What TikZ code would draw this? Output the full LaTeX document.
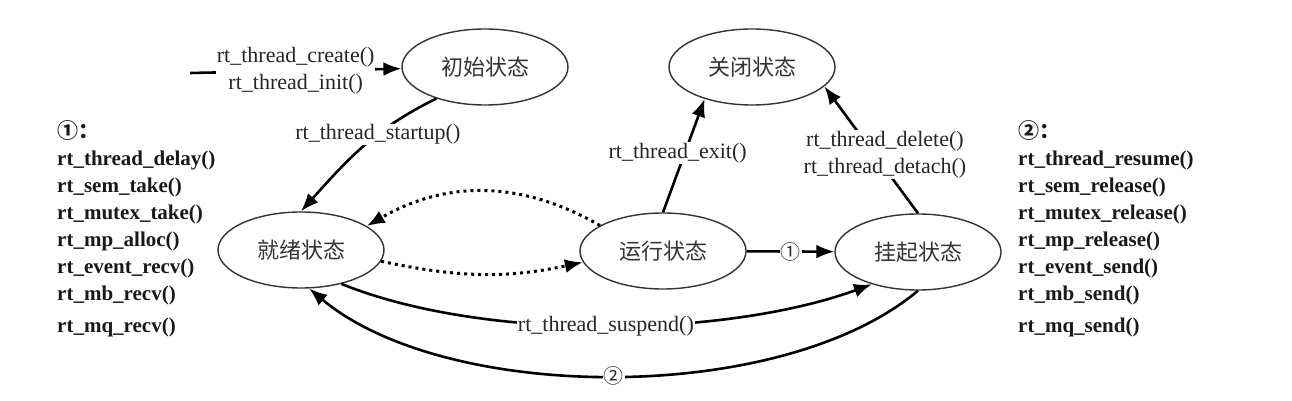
\documentclass[tikz,border=0pt]{standalone}
\usepackage{fontspec}
\setmainfont{Liberation Serif}
\newfontfamily\cjk{Noto Sans CJK SC}
\usepackage{tikz}
\usetikzlibrary{shapes.geometric, arrows.meta}
\tikzstyle{state} = [ellipse, draw=black!80, line width=1.4pt, minimum width=166pt, minimum height=76pt, inner sep=0pt, font=\cjk\fontsize{22}{26}\selectfont, text=black!80]
\tikzstyle{arrow} = [line width=2.6pt, -{Latex[length=18pt,width=14pt]}]
\tikzstyle{dotarrow} = [arrow, line width=3pt, dash pattern=on 3pt off 4pt]
\tikzstyle{call} = [fill=white, inner sep=1pt, align=center, font=\fontsize{22}{27}\selectfont, text=black!85]
\tikzstyle{numlabel} = [fill=white, inner sep=1pt, font=\cjk\fontsize{20}{22}\selectfont, text=black!85]
\tikzstyle{apilist} = [anchor=north west, align=left, inner sep=0pt, font=\bfseries\fontsize{21}{27}\selectfont, text=black!90]

\begin{document}
\begin{tikzpicture}[x=1pt, y=1pt]
        \useasboundingbox (0,0) rectangle (1292,401);
        \node (init) [state] at (485,334) {初始状态};
        \node (closed) [state] at (752,334) {关闭状态};
        \node (ready) [state] at (301,151) {就绪状态};
        \node (running) [state] at (663,150) {运行状态};
        \node (suspended) [state] at (918,149) {挂起状态};
        \coordinate (create) at (190,328);

        \draw [arrow] (create) -- node[call] {rt\_thread\_create()\\rt\_thread\_init()} (init);
        \draw [arrow] (init.213) to[out=206, in=48] node[call, pos=0.38] {rt\_thread\_startup()} (ready.north);
        \draw [arrow] (running.north) -- node[call, pos=0.52, xshift=-7pt] {rt\_thread\_exit()} (closed.214);
        \draw [arrow] (suspended.north) -- node[call, pos=0.46, xshift=10pt] {rt\_thread\_delete()\\rt\_thread\_detach()} (closed.345);
        \draw [dotarrow] (running.158) to[out=150, in=30] (ready.20);
        \draw [dotarrow] (ready.352) to[out=-12, in=192] (running.188);
        \draw [arrow] (running) -- node[numlabel] {①} (suspended);
        \draw [arrow] (ready.320) to[out=-22, in=200, looseness=0.75] node[call] {rt\_thread\_suspend()} (suspended.215);
        \draw [arrow] (suspended.south) to[out=220, in=320, looseness=0.75] node[numlabel] {②} (ready.282);

        \node (waitlist) [apilist] at (57,281) {{\cjk ①：}\\rt\_thread\_delay()\\rt\_sem\_take()\\rt\_mutex\_take()\\rt\_mp\_alloc()\\rt\_event\_recv()\\rt\_mb\_recv()\\[5pt]rt\_mq\_recv()};
        \node (wakelist) [apilist] at (1018,281) {{\cjk ②：}\\rt\_thread\_resume()\\rt\_sem\_release()\\rt\_mutex\_release()\\rt\_mp\_release()\\rt\_event\_send()\\rt\_mb\_send()\\[5pt]rt\_mq\_send()};
    \end{tikzpicture}
\end{document}
